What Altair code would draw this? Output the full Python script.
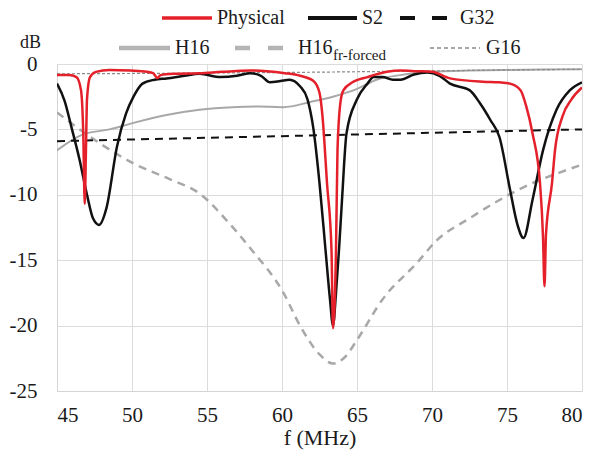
import altair as alt
import pandas as pd

# ---------------- data ----------------
phys_f = [45, 45.8, 46.3, 46.6, 46.75, 46.85, 46.93, 47.0, 47.2, 47.6, 48.5, 49.9, 51.0, 51.4,
          51.7, 51.9, 52.8, 54.5, 56.0, 57.9, 59.0, 60.2, 61.2, 62.1, 62.5, 62.7, 63.0, 63.3,
          63.4, 63.6, 63.7, 63.9, 64.1, 64.7, 65.7, 67.0, 67.9, 69.0, 70.0, 71.2, 73.4, 74.5,
          75.2, 75.9, 76.3, 76.7, 77.2, 77.4, 77.5, 77.6, 78.0, 78.2, 78.7, 79.3, 80.0]
phys_db = [-0.85, -0.85, -1.0, -2.0, -5.3, -10.7, -6.6, -2.7, -1.0, -0.6, -0.45, -0.5, -0.6, -0.7,
           -1.07, -0.85, -0.75, -0.7, -0.6, -0.5, -0.55, -0.7, -0.9, -1.3, -2.2, -4.0, -9.1, -14.2,
           -20.2, -14.2, -6.6, -2.9, -2.0, -1.4, -1.0, -0.6, -0.5, -0.55, -0.6, -1.1, -1.35, -1.4,
           -1.5, -2.0, -3.3, -5.3, -9.1, -13.2, -17.0, -13.0, -9.1, -6.6, -4.0, -2.7, -1.8]

s2_f = [45, 45.5, 46.0, 46.5, 47.0, 47.4, 47.8, 48.3, 49.0, 49.6, 50.1, 50.7, 51.5, 52.3, 53.5,
        54.5, 55.9, 57.0, 57.9, 58.6, 59.2, 59.9, 60.5, 61.2, 61.7, 62.1, 62.5, 62.9, 63.2, 63.4,
        63.6, 63.8, 64.0, 64.3, 65.0, 65.7, 66.1, 66.7, 67.4, 67.9, 68.8, 69.7, 70.5, 71.2, 72.5,
        73.2, 73.9, 74.5, 75.2, 75.7, 76.1, 76.7, 77.4, 78.3, 79.2, 80.0]
s2_db = [-1.5, -2.8, -5.0, -7.3, -10.0, -11.8, -12.3, -11.0, -6.3, -3.8, -2.5, -1.5, -1.2, -1.1, -0.9,
         -0.75, -1.0, -0.9, -0.7, -0.9, -1.4, -1.3, -1.2, -1.7, -2.7, -5.0, -9.1, -14.2, -18.0, -20.0,
         -17.5, -14.2, -10.4, -5.3, -2.7, -1.5, -1.0, -1.0, -1.2, -1.2, -0.8, -0.65, -0.9, -1.5, -2.0,
         -3.0, -4.3, -5.6, -9.6, -12.3, -13.3, -10.4, -6.6, -3.5, -2.0, -1.4]

g32_f = [45, 80]
g32_db = [-5.9, -5.0]

h16_f = [45, 46.7, 48.5, 50.1, 52.3, 54.5, 56.7, 58.5, 60.1, 61.9, 63.4, 65.0, 66.3, 67.9, 70.0,
         72.5, 75.0, 77.5, 80.0]
h16_db = [-6.6, -5.4, -5.0, -4.5, -3.9, -3.5, -3.3, -3.25, -3.3, -2.9, -2.5, -1.9, -1.2, -0.85, -0.6,
          -0.5, -0.45, -0.42, -0.4]

h16fr_f = [45, 47.9, 50.1, 52.5, 54.5, 56.5, 57.9, 60.1, 61.2, 62.5, 63.4, 64.2, 65.0, 66.7, 69.0,
           70.3, 72.5, 74.5, 76.7, 78.5, 80.0]
h16fr_db = [-3.7, -6.1, -7.6, -8.8, -9.9, -12.2, -14.1, -17.5, -20.0, -22.2, -22.9, -22.4, -21.1, -18.0,
            -15.2, -13.5, -11.8, -10.4, -9.1, -8.3, -7.7]

g16_f = [45, 60, 72, 80]
g16_db = [-0.75, -0.65, -0.5, -0.4]

x_ticks = [45, 50, 55, 60, 65, 70, 75, 80]
y_ticks = [-25, -22.5, -20, -17.5, -15, -12.5, -10, -7.5, -5, -2.5, 0]

FONT = "Times New Roman"
RED = "#e4202a"
BLACK = "#111111"
GRAY = "#a8a8a8"
TXT = "#1a1a1a"

xscale = alt.Scale(domain=[45, 80], nice=False, zero=False)
yscale = alt.Scale(domain=[-25, 0], nice=False, zero=False)


def series(fs, dbs, color, width, dash=None, first=False):
    df = pd.DataFrame({"f": fs, "db": dbs})
    kw = dict(color=color, strokeWidth=width, interpolate="monotone", clip=True)
    if dash:
        kw["strokeDash"] = dash
    if first:
        x = alt.X("f:Q", scale=xscale, title="f (MHz)",
                  axis=alt.Axis(values=x_ticks, labelPadding=13, titlePadding=2,
                                gridColor="#dcdcdc"))
        y = alt.Y("db:Q", scale=yscale, title=None,
                  axis=alt.Axis(values=y_ticks, labelPadding=20,
                                labelExpr="datum.value % 5 === 0 ? toString(datum.value) : ''",
                                gridColor={"condition": {"test": "datum.value % 5 === 0",
                                                         "value": "#dcdcdc"},
                                           "value": "#eeeeee"}))
    else:
        x = alt.X("f:Q", scale=xscale)
        y = alt.Y("db:Q", scale=yscale)
    return alt.Chart(df).mark_line(**kw).encode(x=x, y=y)


one = pd.DataFrame({"k": [0]})


def leg_line(x0, x1, y, color, width, dash=None):
    kw = dict(color=color, strokeWidth=width)
    if dash:
        kw["strokeDash"] = dash
    return alt.Chart(one).mark_rule(**kw).encode(
        x=alt.value(x0), x2=alt.value(x1), y=alt.value(y))


def leg_text(x, y, label, size=20):
    return alt.Chart(one).mark_text(font=FONT, fontSize=size, align="left",
                                    baseline="middle", color=TXT).encode(
        x=alt.value(x), y=alt.value(y), text=alt.value(label))


R1 = -46
R2 = -16

layers = [
    series(h16fr_f, h16fr_db, GRAY, 2.5, [8, 6], first=True),
    series(h16_f, h16_db, GRAY, 2),
    series(g16_f, g16_db, "#8a8a8a", 1.2, [3, 2]),
    series(g32_f, g32_db, BLACK, 2, [8, 6]),
    series(s2_f, s2_db, BLACK, 2.5),
    series(phys_f, phys_db, RED, 2.5),
    # legend row 1
    leg_line(105, 155, R1, RED, 3.5),
    leg_text(160, R1, "Physical"),
    leg_line(251, 300, R1, BLACK, 4),
    leg_text(305, R1, "S2"),
    leg_line(343, 390, R1, BLACK, 4, [15, 17]),
    leg_text(403, R1, "G32"),
    # legend row 2
    leg_line(62, 113, R2, "#b4b4b4", 4.5),
    leg_text(118, R2, "H16"),
    leg_line(178, 228, R2, "#b4b4b4", 4.5, [15, 18]),
    leg_text(241, R2, "H16"),
    leg_text(276, R2 + 7, "fr-forced", 15),
    leg_line(373, 423, R2, "#8a8a8a", 1.5, [4, 3]),
    leg_text(429, R2, "G16"),
    leg_text(-37, -21, "dB", 18),
]

chart = alt.layer(*layers).properties(
    width=525, height=327,
    autosize=alt.AutoSizeParams(type="none"),
    padding={"left": 49, "top": 56, "right": 12, "bottom": 60},
).configure(font=FONT).configure_view(stroke=None).configure_axis(
    labelFont=FONT, titleFont=FONT, labelFontSize=21, titleFontSize=22,
    labelColor=TXT, titleColor=TXT, titleFontWeight="normal",
    domainColor="#d4d4d4", ticks=False, grid=True,
)

chart.save("out.html", embed_options={"renderer": "svg", "actions": False})
